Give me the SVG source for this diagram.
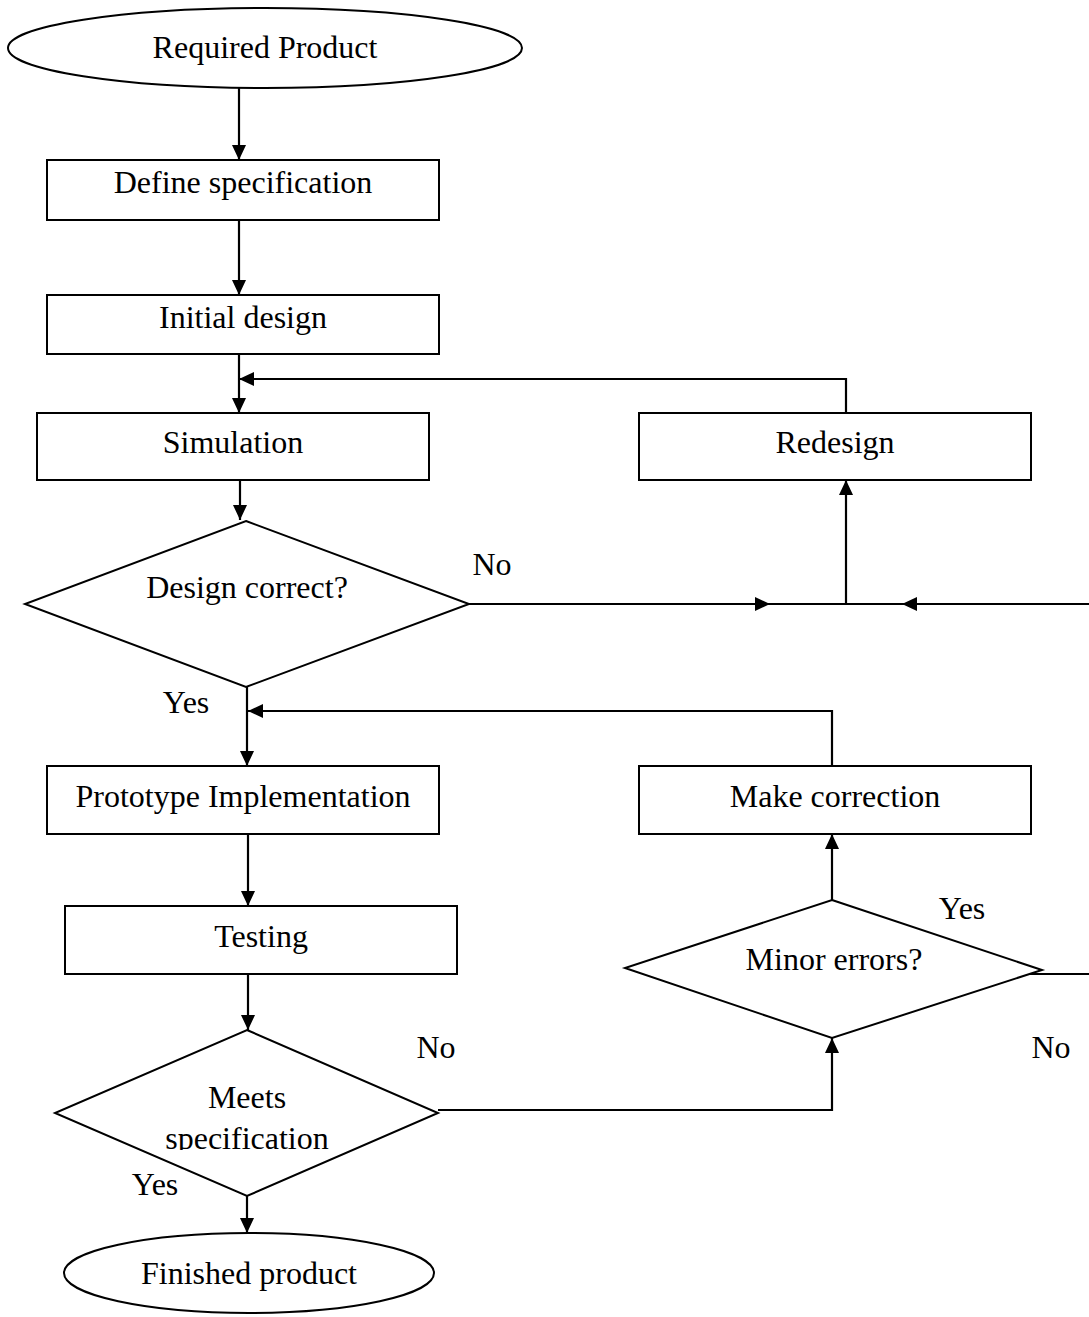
<svg xmlns="http://www.w3.org/2000/svg" width="1089" height="1317" viewBox="0 0 1089 1317">
<style>
.s{fill:#fff;stroke:#000;stroke-width:2}
.t{font-family:"Liberation Serif","Times New Roman",serif;font-size:32px;fill:#000;text-anchor:middle}
.c{fill:none;stroke:#000;stroke-width:2.2}
</style>
<defs>
<marker id="a" markerWidth="15" markerHeight="14" refX="15" refY="7" orient="auto" markerUnits="userSpaceOnUse"><path d="M0,0L15,7L0,14z" fill="#000"/></marker>
<clipPath id="clipSpec"><rect x="0" y="1000" width="1089" height="150"/></clipPath>
</defs>
<rect width="1089" height="1317" fill="#fff"/>
<g id="connectors">
<path class="c" d="M239,88V160" marker-end="url(#a)"/>
<path class="c" d="M239,220V295" marker-end="url(#a)"/>
<path class="c" d="M239,354V413" marker-end="url(#a)"/>
<path class="c" d="M846,413V379H239" marker-end="url(#a)"/>
<path class="c" d="M240,480V520" marker-end="url(#a)"/>
<path class="c" d="M469,604H770" marker-end="url(#a)"/>
<path class="c" d="M770,604H846"/>
<path class="c" d="M1089,604H902" marker-end="url(#a)"/>
<path class="c" d="M902,604H846"/>
<path class="c" d="M846,604V480" marker-end="url(#a)"/>
<path class="c" d="M247,687V766" marker-end="url(#a)"/>
<path class="c" d="M832,766V711H248" marker-end="url(#a)"/>
<path class="c" d="M248,834V906" marker-end="url(#a)"/>
<path class="c" d="M248,974V1030" marker-end="url(#a)"/>
<path class="c" d="M247,1196V1233" marker-end="url(#a)"/>
<path class="c" d="M438,1110H832V1038" marker-end="url(#a)"/>
<path class="c" d="M832,900V834" marker-end="url(#a)"/>
<path class="c" d="M1025,974H1089"/>
</g>
<g id="required-product">
<ellipse class="s" cx="265" cy="48" rx="257" ry="40"/>
<text class="t" x="265" y="58">Required Product</text>
</g>
<g id="define-specification">
<rect class="s" x="47" y="160" width="392" height="60"/>
<text class="t" x="243" y="193">Define specification</text>
</g>
<g id="initial-design">
<rect class="s" x="47" y="295" width="392" height="59"/>
<text class="t" x="243" y="328">Initial design</text>
</g>
<g id="simulation">
<rect class="s" x="37" y="413" width="392" height="67"/>
<text class="t" x="233" y="453">Simulation</text>
</g>
<g id="redesign">
<rect class="s" x="639" y="413" width="392" height="67"/>
<text class="t" x="835" y="453">Redesign</text>
</g>
<g id="design-correct">
<polygon class="s" points="246,521 469,604 246,687 25,604"/>
<text class="t" x="247" y="598">Design correct?</text>
</g>
<g id="prototype-implementation">
<rect class="s" x="47" y="766" width="392" height="68"/>
<text class="t" x="243" y="807">Prototype Implementation</text>
</g>
<g id="make-correction">
<rect class="s" x="639" y="766" width="392" height="68"/>
<text class="t" x="835" y="807">Make correction</text>
</g>
<g id="testing">
<rect class="s" x="65" y="906" width="392" height="68"/>
<text class="t" x="261" y="947">Testing</text>
</g>
<g id="minor-errors">
<polygon class="s" points="832,900 1042,970 832,1038 625,968"/>
<text class="t" x="834" y="970">Minor errors?</text>
</g>
<g id="meets-specification">
<polygon class="s" points="247,1030 438,1113 247,1196 55,1113"/>
<text class="t" x="247" y="1108">Meets</text>
<text class="t" x="247" y="1149" clip-path="url(#clipSpec)">specification</text>
</g>
<g id="finished-product">
<ellipse class="s" cx="249" cy="1273" rx="185" ry="40"/>
<text class="t" x="249" y="1284">Finished product</text>
</g>
<g id="labels">
<text class="t" x="492" y="575">No</text>
<text class="t" x="186" y="713">Yes</text>
<text class="t" x="962" y="919">Yes</text>
<text class="t" x="436" y="1058">No</text>
<text class="t" x="1051" y="1058">No</text>
<text class="t" x="155" y="1195">Yes</text>
</g>
</svg>
